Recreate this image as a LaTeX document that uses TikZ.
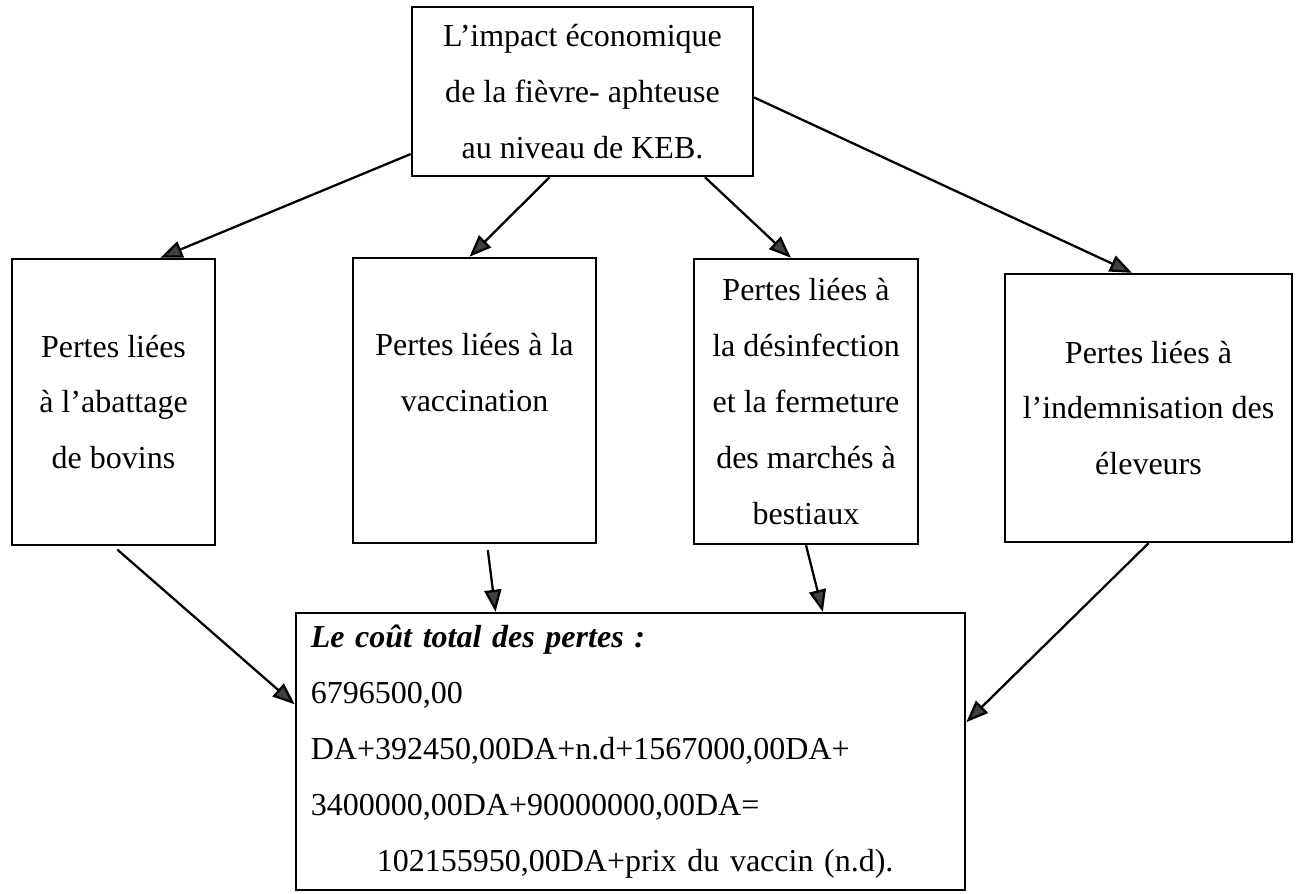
\documentclass[tikz,border=0pt]{standalone}
\usepackage{fontspec}
\setmainfont{Liberation Serif}
\usetikzlibrary{arrows.meta}

\begin{document}
\begin{tikzpicture}[x=0.01cm,y=-0.01cm,line width=0.65pt,
	>={Triangle[length=0.22cm,width=0.17cm,fill=black!75]},
	every node/.style={font=\fontsize{9.1}{15.9}\selectfont},
	box/.style={draw,align=center,inner sep=0pt}]
	\useasboundingbox (0,0) rectangle (1298,893);

	\node[box,minimum width=3.41cm,minimum height=1.69cm] (impact) at (582.5,91.5) {L'impact économique\\de la fièvre- aphteuse\\au niveau de KEB.};

	\node[box,minimum width=2.03cm,minimum height=2.86cm] (abat) at (113.5,402) {Pertes liées\\à l'abattage\\de bovins};
	\node[box,minimum width=2.43cm,minimum height=2.85cm] (vacc) at (474.5,400.5) {Pertes liées à la\\vaccination\\~};
	\node[box,minimum width=2.24cm,minimum height=2.85cm] (desinf) at (806,401.5) {Pertes liées à\\la désinfection\\et la fermeture\\des marchés à\\bestiaux};
	\node[box,minimum width=2.87cm,minimum height=2.68cm] (indem) at (1148.5,408) {Pertes liées à\\l'indemnisation des\\éleveurs};

	\node[box,align=left,text width=6.39cm,inner xsep=0.15cm,minimum height=2.77cm] (total) at (630.5,751.5) {{\bfseries\itshape Le coût total des pertes :}\\6796500,00\\DA+392450,00DA+n.d+1567000,00DA+\\3400000,00DA+90000000,00DA=\\\hspace*{0.66cm}102155950,00DA+prix du vaccin (n.d).};

	\path[->]
	(impact.200) edge (abat.72)
	(impact.249) edge (vacc.92)
	(impact.325) edge (desinf.96)
	(impact.358) edge (indem.97)

	(abat.south) edge [shorten <=0.05cm] (total.172)
	(vacc.275) edge [shorten <=0.06cm] (total.134)
	(desinf.south) edge (total.36)
	(indem.south) edge (total.5)
	;
\end{tikzpicture}
\end{document}
